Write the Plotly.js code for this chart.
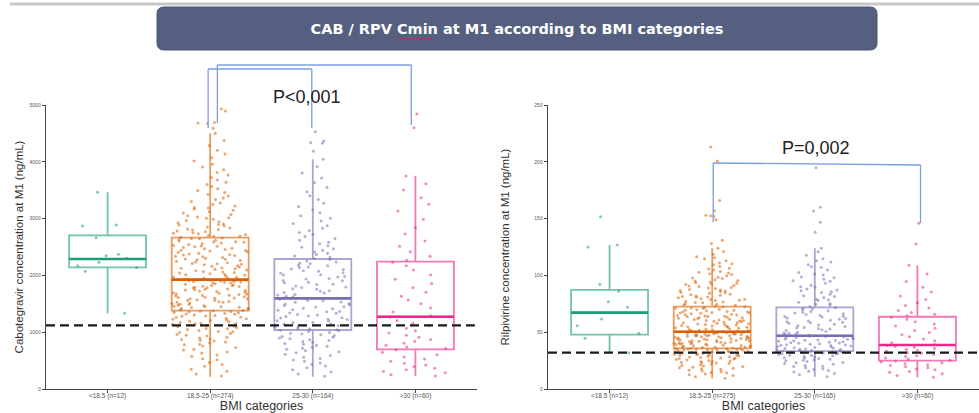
<!DOCTYPE html>
<html><head><meta charset="utf-8">
<script src="https://cdn.plot.ly/plotly-3.0.1.min.js"></script>
<style>html,body{margin:0;padding:0;background:#fff}#chart{width:979px;height:413px}</style>
</head><body><div id="chart"></div>
<script>
// ---------- categories / labels ----------
const cabCategories = ['<18.5 (n=12)', '18.5-25 (n=274)', '25-30 (n=164)', '>30 (n=60)'];
const rpvCategories = ['<18.5 (n=12)', '18.5-25 (n=275)', '25-30 (n=165)', '>30 (n=60)'];
const groupColors = ['#1b9e77', '#d95f02', '#7570b3', '#e7298a'];

// ---------- box statistics ----------
const cabQ1 = [2143, 1379, 1039, 699];
const cabMedian = [2289, 1925, 1596, 1273];
const cabQ3 = [2706, 2664, 2289, 2242];
const cabLowerFence = [1333, 217, 217, 229];
const cabUpperFence = [3463, 4502, 4044, 3750];
const cabThreshold = 1120;

const rpvQ1 = [47.8, 35.8, 33.4, 24.9];
const rpvMedian = [67.2, 50.4, 46.9, 38.7];
const rpvQ3 = [87.2, 72.5, 71.9, 63.6];
const rpvLowerFence = [32, 9.4, 10.8, 10.3];
const rpvUpperFence = [126.8, 124, 124, 109];
const rpvThreshold = 32;

// ---------- individual concentrations ----------
const cabPts0 = [1333, 2072, 2140, 2171, 2231, 2300, 2347, 2371, 2664, 2870, 2887, 3463];
const cabPts1 = [
  228, 265, 312, 347, 402, 431, 468, 515, 533, 572, 598, 634, 651, 688, 702, 731, 756, 779, 786, 812,
  829, 846, 873, 881, 897, 912, 934, 948, 961, 977, 993, 1008, 1014, 1032, 1047, 1061, 1066, 1083, 1097, 1104,
  1118, 1126, 1139, 1152, 1158, 1171, 1183, 1194, 1207, 1213, 1226, 1238, 1244, 1257, 1263, 1279, 1286, 1295, 1304, 1316,
  1322, 1331, 1343, 1352, 1358, 1366, 1371, 1377, 1150, 860,
  1383, 1396, 1402, 1417, 1421, 1438, 1446, 1451, 1467, 1473, 1489, 1494, 1507, 1512, 1526, 1534, 1541, 1559, 1563, 1572,
  1588, 1591, 1604, 1617, 1622, 1639, 1644, 1651, 1668, 1673, 1687, 1695, 1702, 1716, 1724, 1733, 1742, 1758, 1761, 1777,
  1782, 1793, 1806, 1811, 1824, 1836, 1843, 1852, 1865, 1871, 1878, 1886, 1893, 1899, 1904, 1908, 1913, 1917, 1921, 1458,
  1529, 1597, 1663, 1749, 1818, 1889, 1435, 1612,
  1931, 1948, 1957, 1973, 1989, 2004, 2016, 2031, 2042, 2058, 2067, 2083, 2096, 2108, 2119, 2134, 2147, 2159, 2171, 2186,
  2198, 2211, 2223, 2238, 2249, 2262, 2276, 2288, 2301, 2313, 2327, 2339, 2352, 2364, 2378, 2391, 2403, 2416, 2429, 2441,
  2455, 2467, 2480, 2493, 2506, 2518, 2531, 2544, 2557, 2569, 2582, 2594, 2607, 2619, 2632, 2645, 2658, 1966, 2049, 2127,
  2204, 2283, 2359, 2437, 2512, 2588, 2651, 2013,
  2671, 2689, 2703, 2718, 2734, 2751, 2769, 2782, 2798, 2815, 2833, 2852, 2871, 2889, 2906, 2927, 2944, 2968, 2987, 3006,
  3029, 3051, 3072, 3098, 3121, 3145, 3168, 3194, 3221, 3249, 3276, 3302, 3335, 3364, 3398, 3425, 3461, 3493, 3527, 3566,
  3601, 3642, 3681, 3723, 3768, 3812, 3859, 3907, 3958, 4012, 4071, 4136, 4203, 4288, 4375, 4502, 2695, 2742, 2808, 2896,
  3013, 3187,
  4590, 4675, 4683, 4690, 4894, 4930
];
const cabPts2 = [
  224, 262, 298, 341, 372, 405, 436, 459, 487, 512, 538, 561, 589, 612, 637, 654, 679, 701, 718, 736,
  752, 771, 789, 803, 821, 838, 852, 869, 884, 897, 912, 926, 941, 955, 968, 983, 996, 1011, 1024, 1036,
  1043, 1061, 1066, 1085, 1093, 1112, 1119, 1140, 1146, 1167, 1172, 1195, 1201, 1222, 1229, 1251, 1256, 1278, 1284, 1305,
  1313, 1332, 1340, 1361, 1366, 1388, 1395, 1415, 1423, 1443, 1449, 1471, 1477, 1498, 1505, 1526, 1532, 1553, 1560, 1581, 1590,
  1603, 1622, 1631, 1655, 1664, 1689, 1698, 1721, 1730, 1756, 1763, 1788, 1797, 1814, 1839, 1846, 1871, 1880, 1905, 1912,
  1938, 1947, 1970, 1981, 2006, 2013, 2039, 2046, 2071, 2080, 2104, 2113, 2138, 2147, 2171, 2179, 2206, 2214, 2238, 2253, 2281,
  2296, 2318, 2341, 2367, 2389, 2414, 2442, 2468, 2497, 2523, 2556, 2584, 2617, 2649, 2684, 2718, 2756, 2791, 2829, 2872,
  2913, 2958, 3004, 3052, 3103, 3157, 3214, 3272, 3336, 3401, 3472, 3548, 3629, 3714, 3805, 3912, 4044,
  4185, 4325, 4337, 4366, 4530
];
const cabPts3 = [
  229, 251, 287, 312, 338, 365, 394, 421, 455, 487, 528, 562, 604, 648, 690,
  712, 738, 771, 806, 839, 872, 910, 947, 985, 1024, 1068, 1112, 1158, 1207, 1262,
  1291, 1356, 1427, 1503, 1568, 1631, 1702, 1781, 1856, 1934, 2012, 2097, 2168, 2231,
  2268, 2335, 2417, 2512, 2604, 2731, 2844, 2987, 3132, 3254, 3368, 3503, 3612, 3750,
  4600, 4842
];

const rpvPts0 = [32, 44.6, 49, 55.7, 61.6, 71.9, 76.9, 86, 92.2, 125, 126.8, 151.7];
const rpvPts1 = [
  9.4, 10.8, 12.5, 13.1, 14.6, 15.2, 15.9, 17.4, 17.8, 18.6, 19.9, 20.3, 20.7, 21.9, 22.4, 22.8, 23.5, 24.1, 24.2, 25.0,
  25.6, 25.9, 26.8, 27.1, 27.3, 28.2, 28.4, 28.9, 29.6, 29.7, 30.3, 30.6, 30.9, 31.5, 31.6, 32.2, 32.4, 32.5, 33.0, 33.2,
  33.6, 33.8, 34.1, 34.3, 34.5, 34.7, 35.0, 35.2, 35.4, 35.6, 35.7, 11.9, 14.2, 16.5, 19.1, 21.2, 23.0, 26.3, 27.7, 29.1,
  30.0, 31.0, 32.8, 34.8, 18.2, 24.6,
  35.9, 36.2, 36.7, 36.9, 37.4, 37.6, 38.1, 38.5, 38.7, 39.2, 39.4, 39.9, 40.3, 40.6, 40.8, 41.2, 41.5, 41.9, 42.3, 42.4,
  42.8, 43.2, 43.5, 43.7, 44.2, 44.4, 44.8, 45.1, 45.5, 45.7, 46.0, 46.4, 46.8, 46.9, 47.3, 47.7, 47.8, 48.2, 48.6, 48.7,
  49.1, 49.3, 49.6, 49.8, 50.0, 50.2, 36.5, 37.2, 38.3, 39.6, 40.5, 41.4, 42.6, 43.3, 44.6, 45.3, 46.2, 47.1, 48.4, 49.5,
  37.8, 40.1, 42.1, 44.1, 46.6, 48.9,
  50.5, 50.9, 51.3, 51.8, 52.4, 52.7, 53.1, 53.9, 54.3, 54.8, 55.2, 55.9, 56.3, 56.6, 57.2, 57.9, 58.3, 58.7, 59.1, 59.9,
  60.3, 60.7, 61.4, 61.8, 62.3, 62.7, 63.5, 63.9, 64.3, 64.8, 65.4, 65.7, 66.3, 66.9, 67.4, 67.8, 68.3, 68.8, 69.3, 69.8,
  70.2, 70.8, 71.2, 71.7, 72.1, 72.4, 51.5, 53.5, 55.5, 57.5, 59.6, 61.1, 62.9, 64.0, 65.1, 66.6, 68.0, 69.6, 71.0, 52.2,
  54.4, 56.8, 58.4, 60.4, 63.2, 67.1,
  73.0, 73.8, 74.5, 75.1, 75.9, 76.6, 77.2, 78.1, 78.7, 79.5, 80.3, 81.0, 81.8, 82.6, 83.3, 84.2, 85.0, 85.9, 86.7, 87.6,
  88.4, 89.3, 90.2, 91.1, 92.0, 93.0, 94.1, 95.0, 96.2, 97.3, 98.4, 99.6, 100.9, 102.1, 103.5, 104.8, 106.3, 107.9, 109.4, 111.0,
  112.8, 114.6, 116.5, 118.7, 121.0, 124.0, 74.1, 76.1, 79.0, 81.4, 84.7, 87.1, 90.6, 93.6, 97.8, 101.5, 105.6, 110.2, 115.5, 77.8,
  83.0, 88.9, 95.6, 102.8, 80.7, 86.2, 92.5,
  128, 131, 149, 152, 152.5, 153, 157, 166, 200.7, 213
];
const rpvPts2 = [
  10.8, 12.6, 14.9, 16.3, 17.5, 18.8, 19.7, 20.6, 21.8, 22.5, 23.3, 24.1, 24.8, 25.6, 26.2, 26.9, 27.5, 28.1, 28.7, 29.2,
  29.8, 30.3, 30.7, 31.1, 31.6, 32.0, 32.4, 32.8, 33.1, 33.3, 13.7, 17.1, 20.1, 23.0, 25.2, 27.2, 29.5, 31.4, 32.6, 15.6,
  33.6, 34.0, 34.5, 34.8, 35.3, 35.7, 36.1, 36.6, 36.9, 37.4, 37.8, 38.2, 38.7, 39.0, 39.5, 39.9, 40.3, 40.8, 41.1, 41.6,
  42.0, 42.4, 42.9, 43.2, 43.7, 44.1, 44.5, 45.0, 45.3, 45.8, 46.2, 46.6, 34.2, 36.3, 38.5, 40.6, 42.7, 44.8, 46.4, 35.1,
  47.3, 48.1, 48.6, 49.4, 50.0, 50.7, 51.5, 52.1, 52.9, 53.6, 54.2, 55.0, 55.7, 56.3, 57.1, 57.8, 58.4, 59.2, 59.9, 60.5,
  61.3, 62.0, 62.6, 63.4, 64.1, 64.7, 65.5, 66.2, 66.8, 67.6, 68.3, 68.9, 69.7, 70.4, 71.0, 71.7, 49.0, 53.2, 58.8, 63.9,
  72.6, 73.9, 75.2, 76.4, 77.9, 79.1, 80.6, 82.0, 83.3, 84.9, 86.4, 88.0, 89.5, 91.3, 93.0, 94.8, 96.7, 98.6, 100.4, 102.5,
  104.7, 106.9, 109.3, 111.8, 114.6, 117.7, 120.8, 124.0, 74.5, 78.5, 81.4, 85.6, 90.1, 95.2, 101.3, 107.6, 113.0, 87.2, 97.9,
  137.9, 146.7, 156.7, 160, 194.7, 210
];
const rpvPts3 = [
  10.3, 11.8, 13.4, 14.7, 15.5, 16.9, 17.6, 18.8, 19.5, 20.7, 21.4, 22.2, 23.1, 23.8, 24.6,
  25.3, 26.4, 27.2, 28.5, 29.3, 30.6, 31.4, 32.1, 33.5, 34.2, 35.0, 35.9, 36.8, 37.6, 38.4,
  39.2, 40.8, 42.5, 44.1, 46.0, 47.8, 49.7, 51.6, 53.4, 55.5, 57.3, 59.2, 61.4, 63.1,
  64.4, 65.9, 67.3, 69.0, 71.2, 73.5, 76.0, 78.8, 81.9, 85.4, 89.6, 94.7, 101.2, 109.0,
  127.6, 145.8
];

const cabPoints = [cabPts0, cabPts1, cabPts2, cabPts3];
const rpvPoints = [rpvPts0, rpvPts1, rpvPts2, rpvPts3];

// ---------- helpers ----------
function rgba(hex, a) {
  const n = parseInt(hex.slice(1), 16);
  return 'rgba(' + ((n >> 16) & 255) + ',' + ((n >> 8) & 255) + ',' + (n & 255) + ',' + a + ')';
}
const BOX_W = 0.75;

function buildPanel(cats, pts, q1, med, q3, lo, hi, xa, ya) {
  const out = [];
  cats.forEach((cat, i) => {
    const col = groupColors[i];
    // jittered individual points
    out.push({
      type: 'box', xaxis: xa, yaxis: ya,
      x: pts[i].map(() => cat), y: pts[i],
      boxpoints: 'all', jitter: 1, pointpos: 0, width: BOX_W,
      fillcolor: 'rgba(0,0,0,0)', line: {width: 0, color: 'rgba(0,0,0,0)'},
      marker: {color: rgba(col, 0.55), size: 3, line: {width: 0}},
      hoverinfo: 'y', showlegend: false
    });
    // box + whiskers
    out.push({
      type: 'box', xaxis: xa, yaxis: ya,
      x: [cat], q1: [q1[i]], median: [med[i]], q3: [q3[i]],
      lowerfence: [lo[i]], upperfence: [hi[i]],
      boxpoints: false, width: BOX_W, whiskerwidth: 0,
      fillcolor: 'rgba(0,0,0,0)', line: {width: 1.8, color: rgba(col, 0.62)},
      hoverinfo: 'skip', showlegend: false
    });
    // emphasised median
    out.push({
      type: 'box', xaxis: xa, yaxis: ya,
      x: [cat], q1: [med[i]], median: [med[i]], q3: [med[i]],
      lowerfence: [med[i]], upperfence: [med[i]],
      boxpoints: false, width: BOX_W, whiskerwidth: 0,
      fillcolor: 'rgba(0,0,0,0)', line: {width: 2.6, color: col},
      hoverinfo: 'skip', showlegend: false
    });
  });
  return out;
}

const data = [].concat(
  buildPanel(cabCategories, cabPoints, cabQ1, cabMedian, cabQ3, cabLowerFence, cabUpperFence, 'x', 'y'),
  buildPanel(rpvCategories, rpvPoints, rpvQ1, rpvMedian, rpvQ3, rpvLowerFence, rpvUpperFence, 'x2', 'y2')
);

// ---------- layout ----------
const W = 979, H = 413;
const px = v => v / W;
const py = v => (H - v) / H;
const FONT = 'Liberation Sans, Arial, sans-serif';

function xAxis(cats, dom, anchor) {
  return {
    domain: dom, anchor: anchor, type: 'category', categoryorder: 'array', categoryarray: cats,
    range: [-0.6, 3.6], showline: true, linecolor: '#444', linewidth: 1.3,
    ticks: 'outside', ticklen: 3, tickcolor: '#444', tickwidth: 1, ticklabelstandoff: -3,
    tickfont: {family: FONT, size: 6.5, color: '#555'},
    showgrid: false, zeroline: false, automargin: false,
    title: {text: 'BMI categories', font: {family: FONT, size: 12.5, color: '#333'}, standoff: 3}
  };
}
function yAxis(title, maxV, dt, anchor, standoff) {
  return {
    domain: [py(389), py(105)], anchor: anchor, range: [0, maxV], tick0: 0, dtick: dt,
    showline: true, linecolor: '#444', linewidth: 1.3,
    ticks: 'outside', ticklen: 3, tickcolor: '#444', tickwidth: 1,
    tickfont: {family: FONT, size: 5, color: '#555'},
    showgrid: false, zeroline: false, automargin: false,
    title: {text: title, font: {family: FONT, size: 11.5, color: '#333'}, standoff: standoff}
  };
}

const bracketColor = '#7b9de3';
function seg(xref, x0, x1, y0, y1) {
  return {type: 'line', xref: xref, yref: 'paper', x0: x0, x1: x1, y0: py(y0), y1: py(y1),
          line: {color: bracketColor, width: 1.3}, layer: 'above'};
}

// rounded title box
const tb = {l: px(157), r: px(877), t: py(7), b: py(50)};
const rx = px(7), ry = 7 / H;
const titlePath = 'M ' + (tb.l + rx) + ',' + tb.t + ' L ' + (tb.r - rx) + ',' + tb.t +
  ' Q ' + tb.r + ',' + tb.t + ' ' + tb.r + ',' + (tb.t - ry) + ' L ' + tb.r + ',' + (tb.b + ry) +
  ' Q ' + tb.r + ',' + tb.b + ' ' + (tb.r - rx) + ',' + tb.b + ' L ' + (tb.l + rx) + ',' + tb.b +
  ' Q ' + tb.l + ',' + tb.b + ' ' + tb.l + ',' + (tb.b + ry) + ' L ' + tb.l + ',' + (tb.t - ry) +
  ' Q ' + tb.l + ',' + tb.t + ' ' + (tb.l + rx) + ',' + tb.t + ' Z';

const layout = {
  width: W, height: H,
  margin: {l: 0, r: 0, t: 0, b: 0, pad: 0},
  paper_bgcolor: '#ffffff', plot_bgcolor: '#ffffff',
  showlegend: false, boxmode: 'overlay',
  font: {family: FONT, color: '#333'},
  title: {
    text: 'CAB / RPV Cmin at M1 according to BMI categories',
    font: {family: 'DejaVu Sans, sans-serif', size: 14.5, color: '#ffffff', weight: 700},
    xref: 'paper', yref: 'paper', x: px(517), xanchor: 'center', y: py(29), yanchor: 'middle'
  },
  xaxis: xAxis(cabCategories, [px(46), px(477)], 'y'),
  yaxis: yAxis('Cabotegravir concentration at M1 (ng/mL)', 5000, 1000, 'x', 3),
  xaxis2: xAxis(rpvCategories, [px(548), 1], 'y2'),
  yaxis2: yAxis('Rilpivirine concentration at M1 (ng/mL)', 250, 50, 'x2', 22),
  shapes: [
    {type: 'line', xref: 'paper', yref: 'paper', x0: px(10), x1: 1, y0: py(4), y1: py(4),
     line: {color: '#c8c8c8', width: 3}, layer: 'below'},
    {type: 'path', xref: 'paper', yref: 'paper', path: titlePath,
     fillcolor: '#555f80', line: {color: '#4b5472', width: 1}, layer: 'below'},
    {type: 'line', xref: 'paper', yref: 'paper', x0: px(393), x1: px(437), y0: py(38.5), y1: py(38.5),
     line: {color: '#d03030', width: 1, dash: 'dot'}, layer: 'above'},
    // reference thresholds
    {type: 'line', xref: 'x domain', yref: 'y', x0: 0, x1: 0.995, y0: cabThreshold, y1: cabThreshold,
     line: {color: '#1a1a1a', width: 2.2, dash: '9px,5px'}, layer: 'above'},
    {type: 'line', xref: 'x2 domain', yref: 'y2', x0: 0, x1: 1, y0: rpvThreshold, y1: rpvThreshold,
     line: {color: '#1a1a1a', width: 2.2, dash: '9px,5px'}, layer: 'above'},
    // left brackets: 18.5-25 vs 25-30, 18.5-25 vs >30
    seg('x', 0.98, 0.98, 128, 69), seg('x', 0.98, 1.99, 69, 69), seg('x', 1.99, 1.99, 69, 128),
    seg('x', 1.07, 1.07, 123, 65), seg('x', 1.07, 2.96, 65, 65), seg('x', 2.96, 2.96, 65, 125),
    // right bracket: 18.5-25 vs >30
    seg('x2', 1.01, 1.01, 222, 163), seg('x2', 1.01, 3.03, 163, 165), seg('x2', 3.03, 3.03, 165, 223)
  ],
  annotations: [
    {text: 'P<0,001', xref: 'paper', yref: 'paper', x: px(307), y: py(97), showarrow: false,
     xanchor: 'center', yanchor: 'middle', font: {family: FONT, size: 18, color: '#222'}},
    {text: 'P=0,002', xref: 'paper', yref: 'paper', x: px(816), y: py(148), showarrow: false,
     xanchor: 'center', yanchor: 'middle', font: {family: FONT, size: 18, color: '#222'}}
  ]
};

Plotly.newPlot('chart', data, layout, {displayModeBar: false, staticPlot: true});
</script>
</body></html>
